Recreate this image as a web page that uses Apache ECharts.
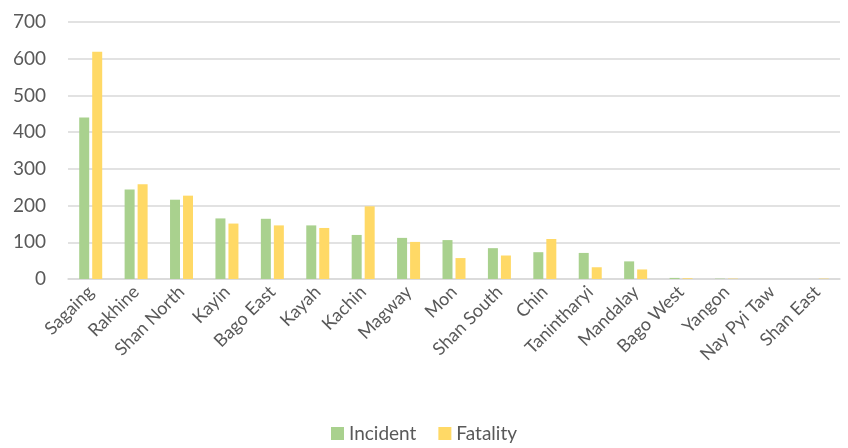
<!DOCTYPE html>
<html>
<head>
<meta charset="utf-8">
<script src="https://cdn.jsdelivr.net/npm/echarts@6/dist/echarts.min.js"></script>
<style>
  html, body { margin: 0; padding: 0; background: #fff; }
  #chart { width: 848px; height: 448px; }
</style>
</head>
<body>
<div id="chart"></div>
<script>
// regions, sorted by incidents
const regions = ['Sagaing', 'Rakhine', 'Shan North', 'Kayin', 'Bago East', 'Kayah', 'Kachin', 'Magway',
  'Mon', 'Shan South', 'Chin', 'Tanintharyi', 'Mandalay', 'Bago West', 'Yangon', 'Nay Pyi Taw', 'Shan East']
const incidents = [440, 244, 216, 165, 164, 146, 120, 112, 106, 84, 73, 71, 48, 3, 1, 0, 0]
const fatalities = [619, 258, 227, 151, 146, 139, 198, 101, 57, 64, 109, 32, 26, 2, 1, 0, 1]
const yTicks = [0, 100, 200, 300, 400, 500, 600, 700]

const textColor = '#595959'
const chart = echarts.init(document.getElementById('chart'))

const option = {
  animation: false,
  textStyle: { fontFamily: 'Lato' },
  grid: { left: 68, right: 8, top: 22, bottom: 169 },
  legend: {
    bottom: 0,
    left: 'center',
    itemWidth: 13,
    itemHeight: 13,
    itemGap: 22,
    icon: 'rect',
    textStyle: { color: textColor, fontSize: 19, fontFamily: 'Lato' },
    data: ['Incident', 'Fatality']
  },
  xAxis: {
    type: 'category',
    data: regions,
    axisTick: { show: false },
    axisLine: { lineStyle: { color: '#d9d9d9', width: 1.5 } },
    axisLabel: {
      rotate: 45,
      interval: 0,
      margin: 10,
      color: textColor,
      fontSize: 18,
      fontFamily: 'Lato'
    }
  },
  yAxis: {
    type: 'value',
    min: yTicks[0],
    max: yTicks[yTicks.length - 1],
    interval: 100,
    axisLine: { show: false },
    axisTick: { show: false },
    splitLine: { lineStyle: { color: '#d9d9d9', width: 1.5 } },
    axisLabel: { color: textColor, fontSize: 19, margin: 22, fontFamily: 'Lato' }
  },
  series: [
    {
      name: 'Incident',
      type: 'bar',
      data: incidents,
      barWidth: 10,
      barGap: '30%',
      itemStyle: { color: '#A9D18E' }
    },
    {
      name: 'Fatality',
      type: 'bar',
      data: fatalities,
      barWidth: 10,
      itemStyle: { color: '#FFD966' }
    }
  ]
}
chart.setOption(option)
</script>
</body>
</html>
